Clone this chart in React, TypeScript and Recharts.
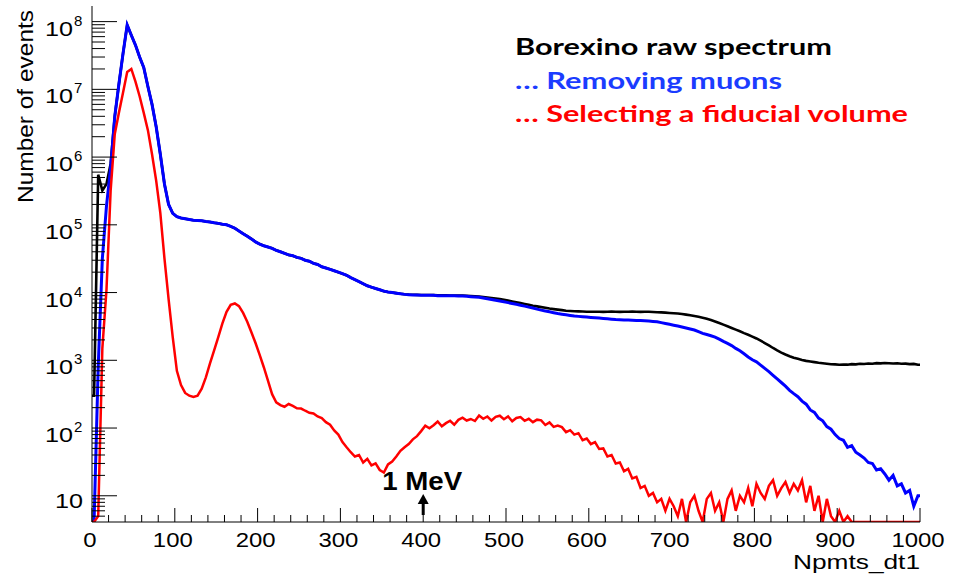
import React from "react";
import { LineChart, Line, XAxis, YAxis, ReferenceLine } from "recharts";

// histogram bins: 5 Npmts wide, starting at 0
const BIN_WIDTH = 5;

// Borexino raw spectrum (black)
const RAW_SPECTRUM = [
  300, 5.5e5, 3.2e5, 4.0e5, 8.0e5, 4.0e6, 1.2e7, 3.4e7, 8.9e7, 6.3e7,
  4.5e7, 3.0e7, 2.1e7, 1.1e7, 6.0e6, 2.8e6, 1.1e6, 4.0e5, 2.0e5, 1.48e5,
  1.32e5, 1.26e5, 1.23e5, 1.2e5, 1.17e5, 1.16e5, 1.15e5, 1.12e5, 1.1e5, 1.07e5,
  1.05e5, 1.02e5, 1.0e5, 9.5e4, 8.9e4, 8.1e4, 7.4e4, 6.8e4, 6.2e4, 5.6e4,
  5.2e4, 4.9e4, 4.7e4, 4.5e4, 4.2e4, 4.0e4, 3.8e4, 3.6e4, 3.5e4, 3.3e4,
  3.2e4, 3.0e4, 2.9e4, 2.7e4, 2.6e4, 2.4e4, 2.3e4, 2.2e4, 2.1e4, 2.0e4,
  1.9e4, 1.8e4, 1.66e4, 1.55e4, 1.45e4, 1.35e4, 1.26e4, 1.2e4, 1.15e4, 1.1e4,
  1.05e4, 1.02e4, 1.0e4, 9.8e3, 9.6e3, 9.45e3, 9.35e3, 9.3e3, 9.25e3, 9.2e3,
  9.2e3, 9.2e3, 9.15e3, 9.1e3, 9.1e3, 9.1e3, 9.05e3, 9.05e3, 9.0e3, 9.0e3,
  8.95e3, 8.9e3, 8.8e3, 8.7e3, 8.6e3, 8.45e3, 8.3e3, 8.15e3, 8.0e3, 7.8e3,
  7.6e3, 7.4e3, 7.2e3, 7.0e3, 6.8e3, 6.6e3, 6.4e3, 6.25e3, 6.1e3, 5.95e3,
  5.8e3, 5.7e3, 5.6e3, 5.5e3, 5.4e3, 5.35e3, 5.3e3, 5.28e3, 5.25e3, 5.22e3,
  5.2e3, 5.2e3, 5.22e3, 5.18e3, 5.2e3, 5.25e3, 5.2e3, 5.18e3, 5.22e3, 5.2e3,
  5.24e3, 5.2e3, 5.18e3, 5.22e3, 5.2e3, 5.16e3, 5.12e3, 5.1e3, 5.05e3, 5.0e3,
  4.95e3, 4.9e3, 4.82e3, 4.72e3, 4.62e3, 4.5e3, 4.38e3, 4.24e3, 4.1e3, 3.92e3,
  3.74e3, 3.55e3, 3.36e3, 3.18e3, 3.0e3, 2.84e3, 2.68e3, 2.52e3, 2.38e3, 2.24e3,
  2.1e3, 1.95e3, 1.8e3, 1.66e3, 1.52e3, 1.4e3, 1.3e3, 1.22e3, 1.15e3, 1.09e3,
  1.05e3, 1.01e3, 980, 960, 940, 920, 905, 890, 875, 870,
  860, 868, 862, 878, 872, 890, 884, 896, 890, 908,
  902, 912, 904, 898, 902, 888, 892, 878, 884, 860,
];

// ... removing muons (blue)
const NO_MUONS = [
  3, 800, 3.2e4, 1.9e5, 7.0e5, 4.0e6, 1.2e7, 3.4e7, 8.9e7, 6.3e7,
  4.5e7, 3.0e7, 2.1e7, 1.1e7, 6.0e6, 2.8e6, 1.1e6, 4.0e5, 2.0e5, 1.48e5,
  1.32e5, 1.26e5, 1.23e5, 1.2e5, 1.17e5, 1.16e5, 1.15e5, 1.12e5, 1.1e5, 1.07e5,
  1.05e5, 1.02e5, 1.0e5, 9.5e4, 8.9e4, 8.1e4, 7.4e4, 6.8e4, 6.2e4, 5.6e4,
  5.2e4, 4.9e4, 4.7e4, 4.5e4, 4.2e4, 4.0e4, 3.8e4, 3.6e4, 3.5e4, 3.3e4,
  3.2e4, 3.0e4, 2.9e4, 2.7e4, 2.6e4, 2.4e4, 2.3e4, 2.2e4, 2.1e4, 2.0e4,
  1.9e4, 1.8e4, 1.66e4, 1.55e4, 1.45e4, 1.35e4, 1.26e4, 1.2e4, 1.15e4, 1.1e4,
  1.05e4, 1.02e4, 1.0e4, 9.8e3, 9.6e3, 9.4e3, 9.3e3, 9.2e3, 9.2e3, 9.1e3,
  9.1e3, 9.1e3, 9.1e3, 9.0e3, 9.0e3, 9.0e3, 9.0e3, 9.0e3, 8.9e3, 8.9e3,
  8.8e3, 8.7e3, 8.6e3, 8.5e3, 8.3e3, 8.1e3, 7.9e3, 7.7e3, 7.5e3, 7.3e3,
  7.1e3, 6.9e3, 6.7e3, 6.5e3, 6.3e3, 6.1e3, 5.9e3, 5.7e3, 5.5e3, 5.35e3,
  5.2e3, 5.05e3, 4.9e3, 4.8e3, 4.7e3, 4.6e3, 4.5e3, 4.45e3, 4.4e3, 4.35e3,
  4.3e3, 4.25e3, 4.2e3, 4.15e3, 4.1e3, 4.05e3, 4.0e3, 3.98e3, 3.95e3, 3.92e3,
  3.9e3, 3.88e3, 3.86e3, 3.84e3, 3.8e3, 3.75e3, 3.7e3, 3.6e3, 3.5e3, 3.4e3,
  3.3e3, 3.2e3, 3.1e3, 3.0e3, 2.9e3, 2.8e3, 2.65e3, 2.5e3, 2.4e3, 2.3e3,
  2.2e3, 2.05e3, 1.9e3, 1.78e3, 1.65e3, 1.5e3, 1.38e3, 1.25e3, 1.12e3, 1.02e3,
  950, 850, 760, 680, 600, 530, 470, 415, 360, 322,
  290, 250, 225, 185, 170, 140, 128, 105, 96, 80,
  70, 66, 52, 55, 44, 40, 36, 31, 30, 24,
  25, 21, 17, 20, 14, 15, 11, 12, 7, 10,
];

// ... selecting a fiducial volume (red)
const FIDUCIAL = [
  0, 5, 1500, 1.1e4, 3.2e5, 2.2e6, 4.5e6, 9.0e6, 1.8e7, 2.0e7,
  1.3e7, 7.9e6, 4.5e6, 2.5e6, 1.1e6, 4.5e5, 1.5e5, 3.2e4, 8000, 2200,
  700, 430, 330, 300, 288, 300, 380, 560, 900, 1400,
  2200, 3500, 5200, 6600, 6900, 6300, 5000, 3700, 2600, 1800,
  1200, 790, 500, 316, 240, 218, 206, 226, 212, 196,
  194, 180, 168, 164, 148, 140, 122, 112, 92, 80,
  62, 52, 44, 38, 40, 31, 35, 28, 30, 24,
  22, 29, 32, 38, 46, 52, 58, 68, 76, 90,
  108, 99, 110, 125, 106, 118, 128, 112, 132, 142,
  129, 136, 127, 153, 137, 148, 129, 146, 152, 135,
  148, 126, 141, 145, 128, 137, 122, 133, 130, 111,
  121, 104, 109, 103, 87, 93, 80, 84, 66, 70,
  58, 62, 49, 50, 38, 40, 30, 31, 23, 25,
  18, 19, 13, 14, 10, 11, 8, 9, 6, 9,
  7, 5, 9, 3, 8, 10, 6, 4, 9, 11,
  6, 8, 3, 9, 12, 6, 10, 8, 13, 7,
  15, 11, 9, 14, 17, 10, 13, 16, 11, 15,
  12, 17, 8, 14, 6, 10, 4, 9, 5, 3,
  6, 2, 5, 1, 0, 0, 0, 0, 0, 0,
  0, 0, 0, 0, 0, 0, 0, 0, 0, 0,
];

const X_MAJOR_TICKS = [0, 100, 200, 300, 400, 500, 600, 700, 800, 900, 1000];
const X_MINOR_OFFSETS = [20, 40, 60, 80];
const Y_MAJOR_TICKS = [10, 1e2, 1e3, 1e4, 1e5, 1e6, 1e7, 1e8];
const Y_MINOR_FACTORS = [2, 3, 4, 5, 6, 7, 8, 9];
const Y_MIN = 4.1;
const Y_MAX = 1.7e8;

const LEGEND = [
  { text: "Borexino raw spectrum", color: "#000000", width: 317 },
  { text: "\u2026 Removing muons", color: "#1b3cff", width: 267 },
  { text: "\u2026 Selecting a fiducial volume", color: "#ff0000", width: 393 },
];

const X_TICKS = X_MAJOR_TICKS.flatMap((t) =>
  t < 1000 ? [t, ...X_MINOR_OFFSETS.map((o) => t + o)] : [t]
);
const Y_TICKS = [
  5, 6, 7, 8, 9,
  ...Y_MAJOR_TICKS.flatMap((t) => [t, ...Y_MINOR_FACTORS.map((f) => f * t)]),
].filter((v) => v >= Y_MIN && v <= Y_MAX);

// zero bins sit on the bottom of the log axis
const clamp = (v: number) => Math.max(v, Y_MIN);

// one point per bin centre, plus the two outer edges
const rows = RAW_SPECTRUM.map((_, i) => ({
  x: i * BIN_WIDTH + BIN_WIDTH / 2,
  raw: clamp(RAW_SPECTRUM[i]),
  muons: clamp(NO_MUONS[i]),
  fiducial: clamp(FIDUCIAL[i]),
}));
rows.unshift({ ...rows[0], x: 0 });
rows.push({ ...rows[rows.length - 1], x: RAW_SPECTRUM.length * BIN_WIDTH });

const AXIS_FONT = "'Liberation Sans', Arial, Helvetica, sans-serif";

function XTick(props: any) {
  const { x, y, payload } = props;
  const v = payload.value as number;
  const major = v % 100 === 0;
  const label = String(v);
  return (
    <g>
      <line x1={x} x2={x} y1={y} y2={y - (major ? 14 : 7)} stroke="#000" strokeWidth={1} />
      {major && (
        <text
          x={x - 2}
          y={y + 25}
          textAnchor="middle"
          fontFamily={AXIS_FONT}
          fontSize={21}
          fill="#000"
          textLength={13.3 * label.length}
          lengthAdjust="spacingAndGlyphs"
        >
          {label}
        </text>
      )}
    </g>
  );
}

function YTick(props: any) {
  const { x, y, payload } = props;
  const v = payload.value as number;
  const lg = Math.log10(v);
  const exp = Math.round(lg);
  const major = Math.abs(lg - exp) < 1e-6;
  return (
    <g>
      <line x1={x} x2={x + (major ? 25 : 13)} y1={y} y2={y} stroke="#000" strokeWidth={1} />
      {major && exp === 1 && (
        <text x={x - 9} y={y + 12} textAnchor="end" fontFamily={AXIS_FONT} fontSize={21}
          textLength={28} lengthAdjust="spacingAndGlyphs">10</text>
      )}
      {major && exp > 1 && (
        <>
          <text x={x - 19} y={y + 14} textAnchor="end" fontFamily={AXIS_FONT} fontSize={21}
            textLength={28} lengthAdjust="spacingAndGlyphs">10</text>
          <text x={x - 18} y={y + 4} fontFamily={AXIS_FONT} fontSize={15}>{exp}</text>
        </>
      )}
    </g>
  );
}

function MevMarker(props: any) {
  const vb = props.viewBox || {};
  const cx = vb.x ?? 0;
  const bottom = (vb.y ?? 0) + (vb.height ?? 0);
  const tip = bottom - 28;
  return (
    <g>
      <text x={cx - 1} y={bottom - 32} textAnchor="middle" fontFamily={AXIS_FONT} fontWeight="bold"
        fontSize={25} textLength={80} lengthAdjust="spacingAndGlyphs" fill="#000">1 MeV</text>
      <line x1={cx} x2={cx} y1={tip + 7} y2={bottom - 7} stroke="#000" strokeWidth={3} />
      <path d={`M ${cx - 5.5} ${tip + 10} L ${cx} ${tip} L ${cx + 5.5} ${tip + 10} Z`} fill="#000" />
    </g>
  );
}

export default function App() {
  return (
    <div style={{ position: "absolute", left: 0, top: 0, width: 953, height: 579, background: "#fff" }}>
      <LineChart width={953} height={579} data={rows} margin={{ top: 6, right: 33, left: 0, bottom: 0 }}>
        <XAxis
          dataKey="x"
          type="number"
          domain={[0, 1000]}
          ticks={X_TICKS}
          interval={0}
          tickSize={0}
          tickMargin={0}
          tickLine={false}
          tick={(p: any) => <XTick {...p} />}
          height={57}
          axisLine={{ stroke: "#000", strokeWidth: 1 }}
        />
        <XAxis xAxisId="top" orientation="top" type="number" domain={[0, 1000]} tick={false}
          tickLine={false} height={0} axisLine={{ stroke: "#000", strokeWidth: 1 }} />
        <YAxis
          type="number"
          scale="log"
          domain={[Y_MIN, Y_MAX]}
          allowDataOverflow
          ticks={Y_TICKS}
          interval={0}
          tickSize={0}
          tickMargin={0}
          tickLine={false}
          tick={(p: any) => <YTick {...p} />}
          width={92}
          axisLine={{ stroke: "#000", strokeWidth: 1 }}
        />
        <YAxis yAxisId="right" orientation="right" type="number" domain={[0, 1]} tick={false}
          tickLine={false} width={0} axisLine={{ stroke: "#000", strokeWidth: 1 }} />
        <Line type="linear" dataKey="raw" stroke="#000000" strokeWidth={2.6} dot={false} isAnimationActive={false} />
        <Line type="linear" dataKey="muons" stroke="#0000ff" strokeWidth={3} dot={false} isAnimationActive={false} />
        <Line type="linear" dataKey="fiducial" stroke="#ff0000" strokeWidth={2.5} dot={false} isAnimationActive={false} />
        <ReferenceLine x={400} stroke="none" label={<MevMarker />} />
      </LineChart>
      <svg width={953} height={579} style={{ position: "absolute", left: 0, top: 0, pointerEvents: "none" }}>
        <text transform="translate(33,10) rotate(-90)" textAnchor="end" fontFamily={AXIS_FONT}
          fontSize={22} textLength={193} lengthAdjust="spacingAndGlyphs">Number of events</text>
        <text x={920} y={569} textAnchor="end" fontFamily={AXIS_FONT} fontSize={21}
          textLength={127} lengthAdjust="spacingAndGlyphs">Npmts_dt1</text>
        {LEGEND.map((l, i) => (
          <text key={l.text} x={515} y={55 + i * 33.5} fill={l.color} fontFamily="Lato, 'Open Sans', sans-serif"
            fontWeight="bold" fontSize={23} textLength={l.width} lengthAdjust="spacingAndGlyphs">{l.text}</text>
        ))}
      </svg>
    </div>
  );
}
